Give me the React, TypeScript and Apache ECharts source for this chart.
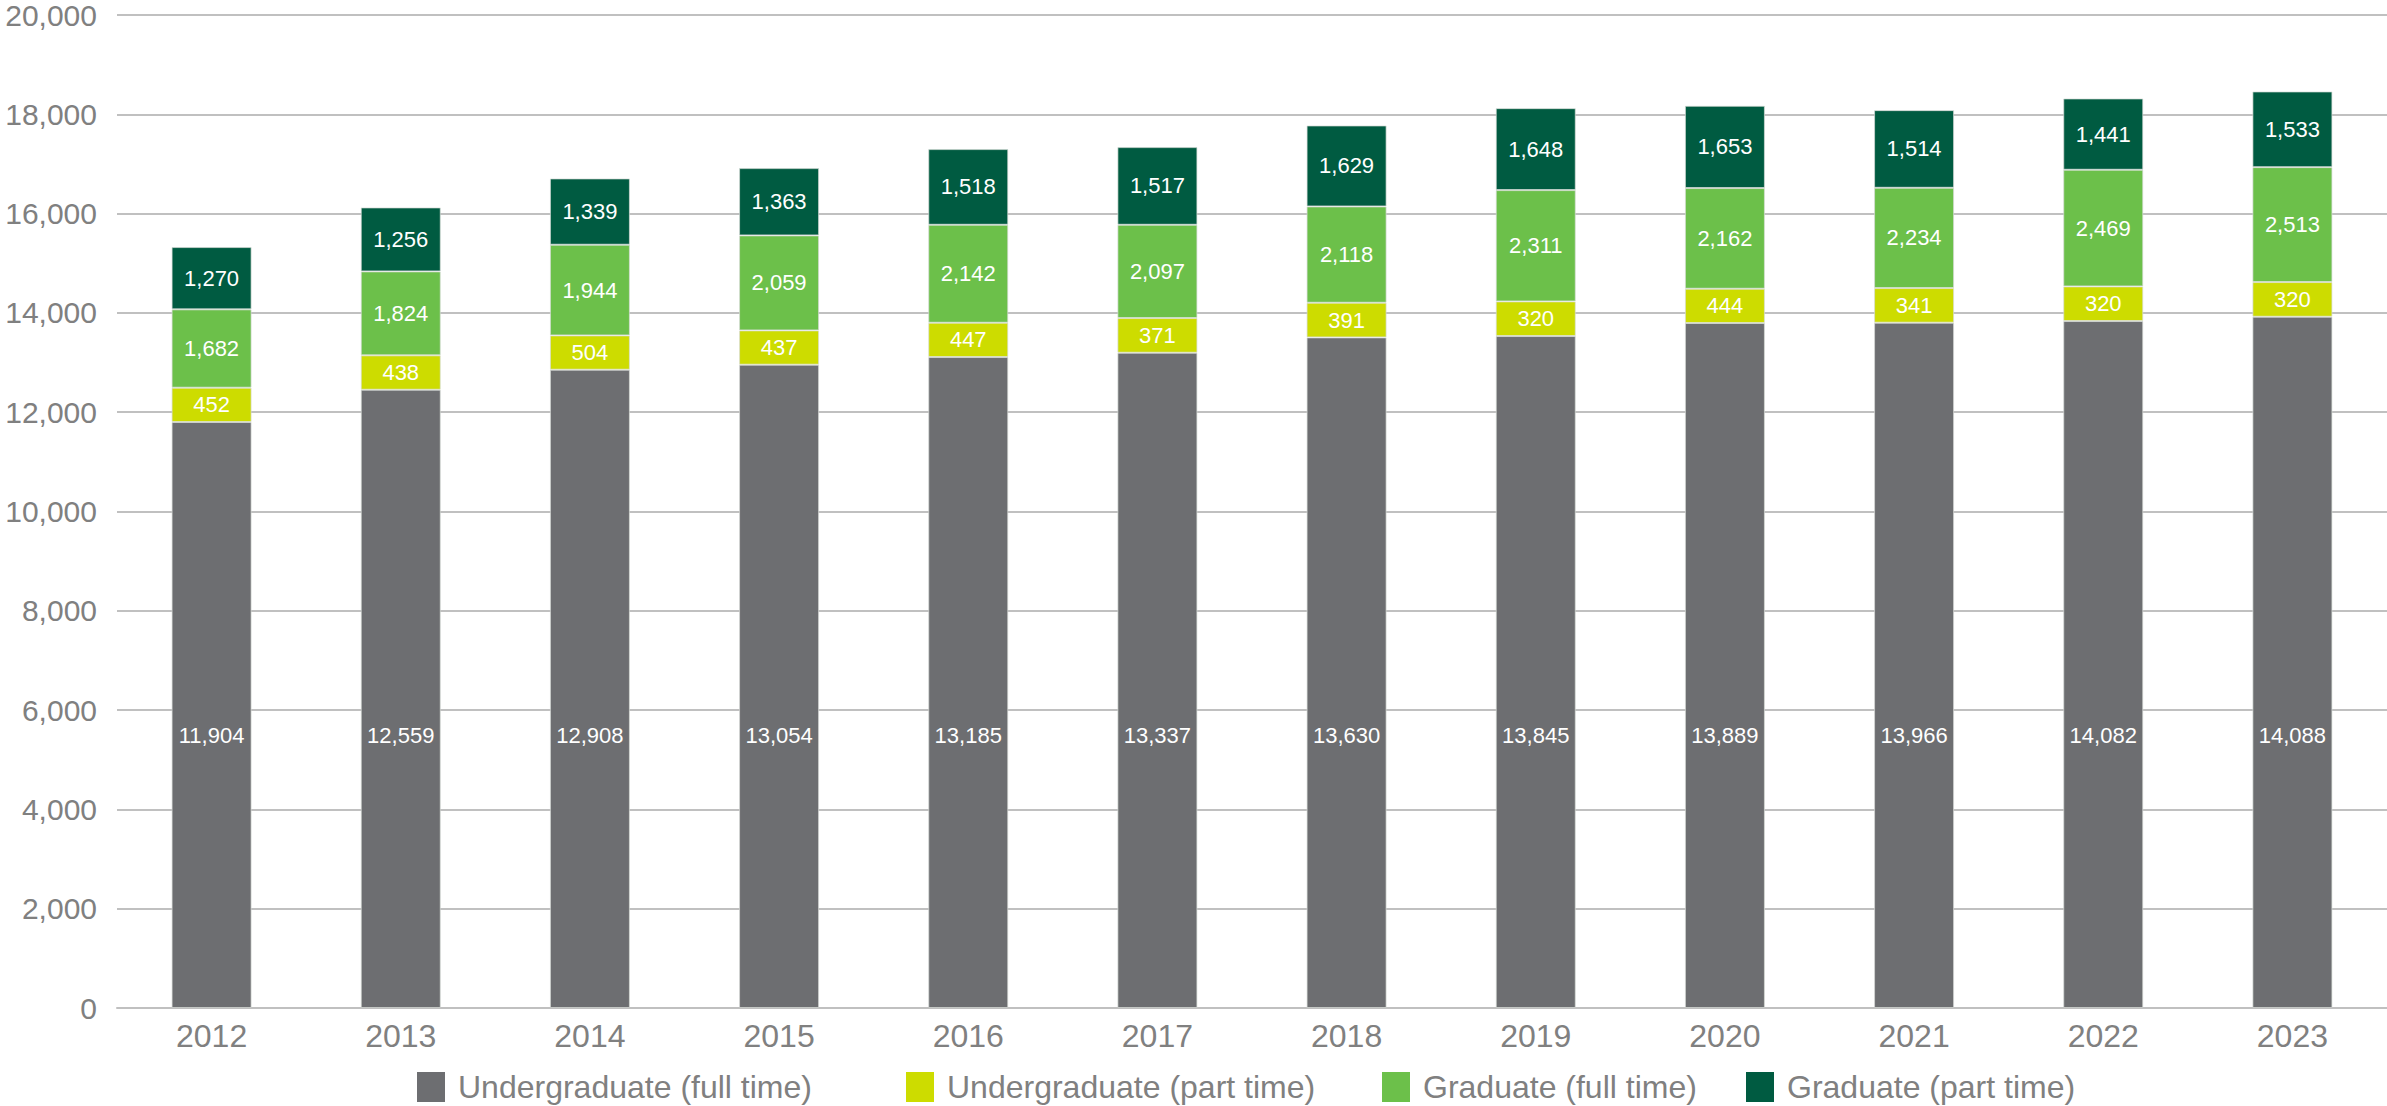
import React, { useEffect, useRef } from "react";
import * as echarts from "echarts";

const years = ["2012", "2013", "2014", "2015", "2016", "2017", "2018", "2019", "2020", "2021", "2022", "2023"];

// Bar segment heights as drawn in the picture
const ugFullTime = [11802, 12453, 12856, 12957, 13111, 13198, 13507, 13534, 13796, 13803, 13836, 13923];
const ugPartTime = [692, 692, 691, 691, 691, 698, 698, 698, 691, 697, 698, 698];
const gradFullTime = [1577, 1691, 1826, 1913, 1973, 1879, 1939, 2241, 2027, 2020, 2349, 2315];
const gradPartTime = [1255, 1288, 1335, 1355, 1524, 1564, 1631, 1651, 1657, 1564, 1436, 1524];

// Data-label texts printed on the segments
const ugFullTimeLabels = [11904, 12559, 12908, 13054, 13185, 13337, 13630, 13845, 13889, 13966, 14082, 14088];
const ugPartTimeLabels = [452, 438, 504, 437, 447, 371, 391, 320, 444, 341, 320, 320];
const gradFullTimeLabels = [1682, 1824, 1944, 2059, 2142, 2097, 2118, 2311, 2162, 2234, 2469, 2513];
const gradPartTimeLabels = [1270, 1256, 1339, 1363, 1518, 1517, 1629, 1648, 1653, 1514, 1441, 1533];

const seriesNames = [
  "Undergraduate (full time)",
  "Undergraduate (part time)",
  "Graduate (full time)",
  "Graduate (part time)",
];
const seriesColors = ["#6d6e71", "#cddc00", "#6cc04a", "#005b41"];
const legendLefts = [417, 906, 1382, 1746];

const FONT = "'Liberation Sans', Arial, sans-serif";
const GRAY_TEXT = "#808080";

export default function App() {
  const ref = useRef<HTMLDivElement>(null);
  useEffect(() => {
    if (!ref.current) return;
    const chart = echarts.init(ref.current, undefined, { renderer: "svg" });
    const dataSets = [ugFullTime, ugPartTime, gradFullTime, gradPartTime];
    const labelSets = [ugFullTimeLabels, ugPartTimeLabels, gradFullTimeLabels, gradPartTimeLabels];
    const series = dataSets.map((d, i) => ({
      name: seriesNames[i],
      type: "bar",
      stack: "total",
      barWidth: 80,
      data: d,
      itemStyle: { color: seriesColors[i], borderColor: "rgba(215,220,215,0.7)", borderWidth: 1 },
      label: {
        show: true,
        position: i === 0 ? "insideBottom" : "inside",
        distance: i === 0 ? 262 : 5,
        color: "#ffffff",
        fontSize: 22,
        fontFamily: FONT,
        formatter: (p: any) => labelSets[i][p.dataIndex].toLocaleString("en-US"),
      },
    }));
    const legends = seriesNames.map((n, i) => ({
      data: [n],
      left: legendLefts[i],
      top: 1071,
      padding: 0,
      itemWidth: 28,
      itemHeight: 30,
      icon: "rect",
      itemStyle: { borderWidth: 0 },
      textStyle: { color: GRAY_TEXT, fontSize: 32, fontFamily: FONT, padding: [0, 0, 0, 8] },
    }));
    chart.setOption({
      animation: false,
      backgroundColor: "#ffffff",
      textStyle: { fontFamily: FONT },
      grid: { left: 117, top: 15, width: 2274, height: 993, containLabel: false },
      legend: legends,
      xAxis: {
        type: "category",
        data: years,
        axisTick: { show: false },
        axisLine: { show: true, lineStyle: { color: "#c0c0c0", width: 2 } },
        axisLabel: { color: GRAY_TEXT, fontSize: 32, fontFamily: FONT, margin: 12 },
      },
      yAxis: {
        type: "value",
        min: 0,
        max: 20000,
        interval: 2000,
        axisLine: { show: false },
        axisTick: { show: false },
        splitLine: { lineStyle: { color: "#c0c0c0", width: 2 } },
        axisLabel: {
          color: GRAY_TEXT,
          fontSize: 30,
          fontFamily: FONT,
          margin: 20,
          formatter: (v: number) => v.toLocaleString("en-US"),
        },
      },
      series,
    });
    return () => chart.dispose();
  }, []);
  return (
    <div
      ref={ref}
      style={{ position: "fixed", left: 0, top: 0, width: 2387, height: 1106, background: "#fff" }}
    />
  );
}
